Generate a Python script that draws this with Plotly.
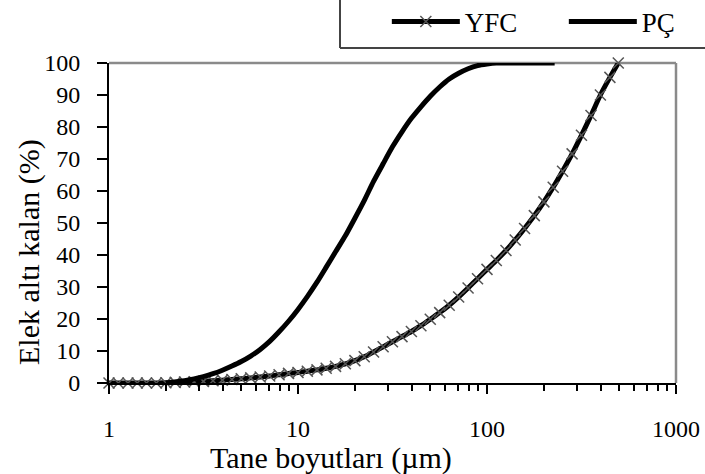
import plotly.graph_objects as go

# YFC particle size distribution (cumulative passing, %)
yfc_size = [1.0, 1.12, 1.26, 1.41, 1.58, 1.78, 2.0, 2.24, 2.51, 2.82, 3.16, 3.55, 3.98, 4.47,
            5.01, 5.62, 6.31, 7.08, 7.94, 8.91, 10.0, 11.2, 12.6, 14.1, 15.8, 17.8, 20.0, 22.4,
            25.1, 28.2, 31.6, 35.5, 39.8, 44.7, 50.1, 56.2, 63.1, 70.8, 79.4, 89.1, 100, 112,
            126, 141, 158, 178, 200, 224, 251, 282, 316, 355, 398, 447, 495]
yfc_pass = [0, 0, 0, 0, 0, 0, 0.1, 0.2, 0.3, 0.4, 0.5, 0.7, 0.9, 1.1,
            1.3, 1.6, 1.9, 2.2, 2.6, 3.0, 3.3, 3.7, 4.1, 4.6, 5.2, 6.0, 7.0, 8.2,
            9.7, 11.3, 12.9, 14.5, 16.1, 17.9, 19.9, 22.0, 24.3, 26.9, 29.7, 32.6, 35.5, 38.3,
            41.4, 44.7, 48.3, 52.3, 56.6, 61.2, 66.2, 71.6, 77.4, 83.6, 90.0, 95.5, 100]

# PÇ particle size distribution
pc_size = [2.0, 2.24, 2.51, 2.82, 3.16, 3.55, 3.98, 4.47, 5.01, 5.62, 6.31, 7.08, 7.94, 8.91,
           10.0, 11.2, 12.6, 14.1, 15.8, 17.8, 20.0, 22.4, 25.1, 28.2, 31.6, 35.5, 39.8, 44.7,
           50.1, 56.2, 63.1, 70.8, 79.4, 89.1, 100, 112, 126, 141, 158, 178, 200, 228]
pc_pass = [0, 0.3, 0.7, 1.3, 2.0, 2.9, 4.0, 5.3, 6.7, 8.4, 10.5, 13.0, 16.0, 19.3,
           23.0, 27.0, 31.5, 36.2, 41.0, 46.0, 51.5, 57.0, 63.0, 68.5, 73.8, 78.5, 82.7, 86.3,
           89.6, 92.5, 95.0, 96.8, 98.2, 99.2, 99.7, 100, 100, 100, 100, 100, 100, 100]

x_ticks = [1, 10, 100, 1000]
x_tick_text = ["1", "10", "100", "1000"]
y_ticks = [0, 10, 20, 30, 40, 50, 60, 70, 80, 90, 100]

FONT = "Liberation Serif"

fig = go.Figure()
fig.add_trace(go.Scatter(
    x=yfc_size, y=yfc_pass, name="YFC", mode="lines+markers",
    line=dict(color="black", width=5, shape="spline", smoothing=0.6),
    marker=dict(symbol="x-thin", size=11, line=dict(color="#555555", width=1.5), color="#555555"),
    cliponaxis=False,
))
fig.add_trace(go.Scatter(
    x=pc_size, y=pc_pass, name="PÇ", mode="lines",
    line=dict(color="black", width=5, shape="spline", smoothing=0.6),
    cliponaxis=False,
))

fig.update_layout(
    width=705, height=474,
    margin=dict(l=109, r=29, t=63, b=91, autoexpand=False),
    paper_bgcolor="white", plot_bgcolor="white",
    font=dict(family=FONT, color="black", size=24),
    showlegend=True,
    legend=dict(
        orientation="h", x=0.49, xanchor="left", y=1.128, yanchor="middle",
        font=dict(family=FONT, size=27, color="black"),
        itemwidth=68, bgcolor="rgba(0,0,0,0)", entrywidth=94,
    ),
    xaxis=dict(
        type="log", range=[0, 3], automargin=False,
        tickvals=x_ticks, ticktext=x_tick_text,
        showline=True, linecolor="black", linewidth=2,
        ticks="outside", ticklen=9, tickwidth=1.5, tickcolor="black",
        ticklabelstandoff=14,
        minor=dict(ticks="outside", ticklen=6, tickwidth=1.5, tickcolor="black", dtick="D1", showgrid=False),
        showgrid=False, zeroline=False,
        tickfont=dict(family=FONT, size=24),
    ),
    yaxis=dict(
        range=[0, 100], tickvals=y_ticks, automargin=False,
        showline=True, linecolor="black", linewidth=2,
        ticks="outside", ticklen=10, tickwidth=1.5, tickcolor="black",
        ticklabelstandoff=12,
        showgrid=False, zeroline=False,
        tickfont=dict(family=FONT, size=24),
    ),
    annotations=[
        dict(text="Tane boyutları (µm)", xref="paper", yref="paper",
             x=(331 - 109) / 567, y=(383 - 458) / 320, xanchor="center", yanchor="middle",
             showarrow=False, font=dict(family=FONT, size=30, color="black")),
        dict(text="Elek altı kalan (%)", xref="paper", yref="paper", textangle=-90,
             x=(29 - 109) / 567, y=(383 - 252) / 320, xanchor="center", yanchor="middle",
             showarrow=False, font=dict(family=FONT, size=30, color="black")),
    ],
    shapes=[
        dict(type="line", xref="paper", yref="paper", x0=0, x1=1, y0=1, y1=1,
             line=dict(color="#8a8a8a", width=2.5), layer="below"),
        dict(type="line", xref="paper", yref="paper", x0=1, x1=1, y0=0, y1=1,
             line=dict(color="#8a8a8a", width=2.5), layer="below"),
        # legend frame (partially outside view)
        dict(type="line", xref="paper", yref="paper", x0=(340 - 109) / 567, x1=1.1,
             y0=(383 - 48) / 320, y1=(383 - 48) / 320, line=dict(color="#444444", width=2)),
        dict(type="line", xref="paper", yref="paper", x0=(340 - 109) / 567, x1=(340 - 109) / 567,
             y0=(383 - 48) / 320, y1=1.25, line=dict(color="#444444", width=2)),
    ],
)

fig.write_html("out.html", config={"displayModeBar": False},
               post_script="document.body.style.margin='0';document.body.style.padding='0';")
